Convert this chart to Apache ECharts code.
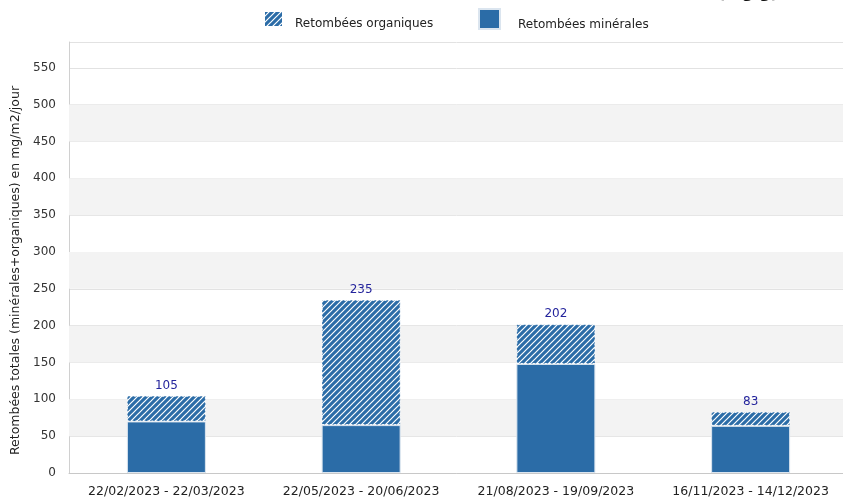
<!DOCTYPE html>
<html>
<head>
<meta charset="utf-8">
<script src="https://cdn.jsdelivr.net/npm/echarts@6/dist/echarts.min.js"></script>
<style>
  html, body { margin: 0; padding: 0; background: #fff; }
  #chart { width: 843px; height: 497px; }
</style>
</head>
<body>
<div id="chart"></div>
<script>
var periods = ['22/02/2023 - 22/03/2023', '22/05/2023 - 20/06/2023', '21/08/2023 - 19/09/2023', '16/11/2023 - 14/12/2023'];
var minerales = [70, 65, 148, 64];
var organiques = [35, 170, 54, 19];
var totals = [105, 235, 202, 83];
var yTicks = { min: 0, max: 585, step: 50, lastTick: 550 };

// hatch tile for the organic part
var tile = document.createElement('canvas');
tile.width = 6; tile.height = 6;
var ctx = tile.getContext('2d');
ctx.fillStyle = '#2b6ca7';
ctx.fillRect(0, 0, 6, 6);
ctx.strokeStyle = '#ffffff';
ctx.lineWidth = 1.2;
ctx.beginPath();
ctx.moveTo(0, 6); ctx.lineTo(6, 0);
ctx.moveTo(-3, 3); ctx.lineTo(3, -3);
ctx.moveTo(3, 9); ctx.lineTo(9, 3);
ctx.stroke();

// grey bands every other step: 50-100, 150-200 ...
var bands = [];
for (var v = yTicks.step; v < yTicks.lastTick; v += 2 * yTicks.step) {
  bands.push([{ yAxis: v }, { yAxis: v + yTicks.step }]);
}

var chart = echarts.init(document.getElementById('chart'));
var font = 'DejaVu Sans';

chart.setOption({
  animation: false,
  textStyle: { fontFamily: font },
  legend: [
    {
      top: 5,
      left: 258,
      itemWidth: 19,
      itemHeight: 16,
      icon: 'rect',
      data: ['Retombées organiques'],
      formatter: '{t|{name}}',
      textStyle: {
        rich: { t: { fontSize: 12, color: '#222', fontFamily: font, padding: [10, 0, 0, 7] } }
      }
    },
    {
      top: 3,
      left: 473,
      itemWidth: 21,
      itemHeight: 20,
      icon: 'rect',
      data: ['Retombées minérales'],
      formatter: '{t|{name}}',
      textStyle: {
        rich: { t: { fontSize: 12, color: '#222', fontFamily: font, padding: [12, 0, 0, 13] } }
      }
    }
  ],
  grid: { left: 69, width: 779, top: 42, bottom: 24, outerBoundsMode: 'none' },
  xAxis: {
    type: 'category',
    data: periods,
    axisLine: { lineStyle: { color: '#c8c8c8' } },
    axisTick: { show: false },
    axisLabel: { color: '#222', fontSize: 12.5, margin: 12, interval: 0 }
  },
  yAxis: {
    type: 'value',
    min: yTicks.min,
    max: yTicks.max,
    interval: yTicks.step,
    name: 'Retombées totales (minérales+organiques) en mg/m2/jour',
    nameLocation: 'middle',
    nameGap: 41,
    nameTextStyle: { color: '#222', fontSize: 12.5, padding: [0, 26, 0, 0] },
    axisLine: { show: true, lineStyle: { color: '#d0d0d0' } },
    axisTick: { show: false },
    axisLabel: { color: '#333', fontSize: 12, margin: 13, showMaxLabel: false },
    splitLine: { show: true, lineStyle: { color: '#e2e2e2' } },
    splitArea: { show: false }
  },
  series: [
    {
      type: 'line',
      data: [],
      z: 1,
      silent: true,
      markArea: {
        silent: true,
        itemStyle: { color: '#f3f3f3' },
        data: bands
      }
    },
    {
      name: 'Retombées minérales',
      type: 'bar',
      stack: 'total',
      barWidth: 79,
      z: 3,
      data: minerales,
      itemStyle: { color: '#2b6ca7', borderColor: '#dbe5ef', borderWidth: 1 }
    },
    {
      name: 'Retombées organiques',
      type: 'bar',
      stack: 'total',
      barWidth: 79,
      z: 3,
      data: organiques,
      itemStyle: {
        color: { image: tile, repeat: 'repeat' },
        borderColor: '#ffffff',
        borderWidth: 1,
        borderType: [2, 2]
      },
      label: {
        show: true,
        position: 'top',
        distance: 4,
        color: '#24249c',
        fontSize: 12,
        formatter: function (p) { return totals[p.dataIndex]; }
      }
    }
  ],
  graphic: [
    {
      type: 'text',
      left: 718,
      top: -14,
      style: { text: '(mg/g)', font: 'bold 16px ' + font, fill: '#111' }
    }
  ]
});
</script>
</body>
</html>
